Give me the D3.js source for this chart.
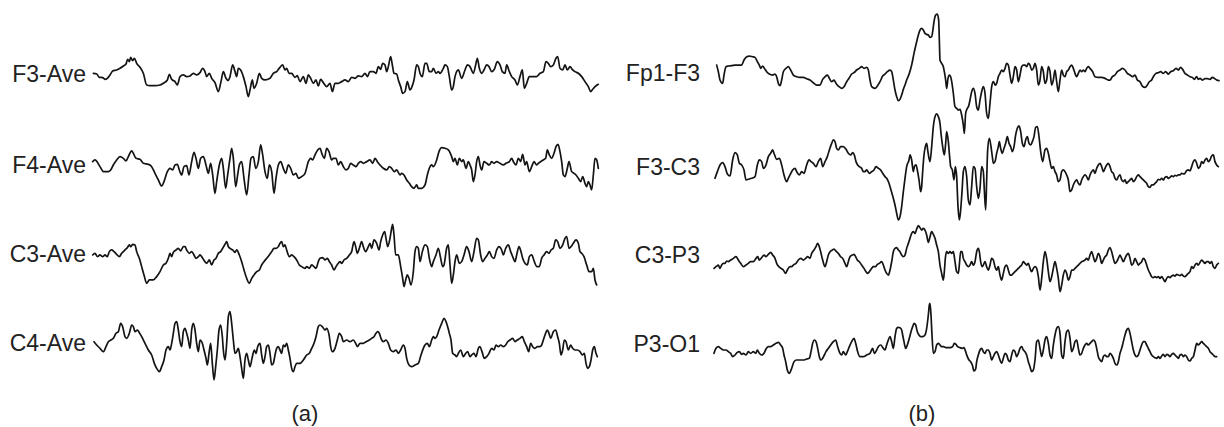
<!DOCTYPE html>
<html>
<head>
<meta charset="utf-8">
<script src="https://cdn.jsdelivr.net/npm/d3@7"></script>
<style>
  body { margin: 0; background: #fff; }
  text { font-family: "Liberation Sans", Arial, sans-serif; fill: #222; }
</style>
</head>
<body>
<svg id="chart" width="1224" height="427"></svg>
<script>
// EEG traces: [sample (150 Hz), amplitude (µV)]
const channelsA = ["F3-Ave", "F4-Ave", "C3-Ave", "C4-Ave"];
const channelsB = ["Fp1-F3", "F3-C3", "C3-P3", "P3-O1"];
const panelLabels = ["(a)", "(b)"];

const f3Ave = [[10,0],[20,-2],[28,-12],[38,-13],[45,-18],[52,-15],[60,-5],[68,7],[80,10],[90,15],[100,22],[108,28],[113,42],[118,35],[122,48],[128,38],[133,45],[140,30],[150,18],[160,0],[170,-35],[180,-37],[195,-37],[210,-35],[220,-30],[232,-20],[238,-3],[245,-18],[255,-25],[262,-35],[270,-10],[280,-5],[290,-10],[300,-8],[310,0],[320,-5],[330,2],[338,15],[345,5],[350,-10],[358,0],[365,-15],[375,-28],[385,-55],[393,-25],[400,5],[408,-15],[415,-22],[420,-10],[428,25],[435,5],[440,-10],[445,15],[452,10],[460,-10],[468,-40],[475,-70],[480,-50],[487,-20],[492,-45],[500,-30],[508,0],[515,-15],[525,-20],[540,-15],[550,0],[560,5],[570,18],[578,25],[585,10],[590,15],[597,0],[605,0],[615,-12],[622,-7],[630,-25],[640,-10],[648,-30],[655,-5],[662,-15],[670,-30],[678,-20],[685,-38],[692,-18],[700,-28],[710,-40],[720,-30],[727,-55],[735,-30],[745,-30],[755,-25],[765,-20],[775,-25],[785,-12],[795,-15],[805,-8],[815,-10],[825,0],[832,-10],[840,5],[850,5],[858,0],[865,20],[872,12],[878,30],[885,25],[890,5],[895,20],[902,50],[907,25],[912,0],[920,-2],[925,-20],[932,-40],[938,-60],[945,-55],[952,-25],[960,-50],[966,-40],[972,-20],[980,25],[985,20],[990,0],[997,-10],[1005,30],[1010,30],[1018,5],[1025,5],[1030,15],[1038,0],[1045,5],[1050,0],[1060,15],[1065,25],[1072,20],[1078,-10],[1085,-50],[1090,-40],[1095,-10],[1105,10],[1115,-15],[1125,10],[1132,25],[1140,20],[1150,0],[1157,25],[1162,45],[1168,15],[1175,0],[1182,10],[1190,25],[1197,20],[1205,5],[1213,12],[1222,35],[1230,25],[1237,5],[1245,0],[1250,25],[1258,5],[1265,-10],[1275,-20],[1282,-35],[1290,-10],[1297,10],[1303,-45],[1310,-30],[1318,-10],[1328,-10],[1340,-10],[1350,0],[1360,5],[1368,35],[1375,30],[1382,20],[1390,25],[1398,45],[1403,50],[1410,15],[1418,10],[1425,25],[1432,10],[1440,20],[1448,10],[1455,5],[1465,0],[1475,-10],[1485,-25],[1495,-40],[1502,-55],[1508,-48],[1515,-40],[1525,-33]];

const f4Ave = [[8,-10],[15,-5],[30,-25],[40,-40],[55,-40],[62,-35],[70,-20],[80,-5],[90,5],[100,0],[108,-8],[115,5],[125,22],[130,15],[138,0],[150,-3],[160,-15],[175,-18],[185,-25],[195,-45],[205,-65],[215,-83],[222,-70],[232,-40],[240,-30],[248,-35],[255,-20],[262,-18],[268,-35],[275,-50],[282,-25],[290,-22],[297,-50],[305,-10],[312,18],[318,0],[325,-30],[332,0],[340,5],[348,-20],[355,-45],[362,-15],[368,-50],[375,-105],[380,-70],[388,-20],[395,0],[400,-30],[407,-90],[413,-50],[420,0],[425,30],[430,0],[437,-85],[443,-50],[448,-20],[455,-10],[462,-60],[470,-110],[477,-50],[483,0],[490,5],[497,-30],[505,-10],[512,40],[518,10],[525,-40],[532,-60],[538,-20],[545,-40],[552,-105],[558,-60],[565,-20],[572,-10],[580,-30],[587,-45],[595,-20],[602,-30],[610,-50],[618,-45],[625,-60],[635,-55],[645,-45],[655,-10],[662,0],[668,-5],[675,10],[683,25],[690,30],[697,10],[703,0],[710,30],[717,20],[725,-5],[730,0],[738,0],[745,-20],[752,-10],[760,-25],[768,-35],[775,-30],[782,-15],[790,-20],[798,-25],[805,-15],[812,-10],[820,-15],[830,-10],[840,-5],[848,-15],[855,0],[862,-10],[870,-20],[880,-30],[890,-35],[898,-25],[905,-30],[913,-40],[920,-35],[930,-50],[935,-45],[942,-50],[950,-65],[958,-75],[965,-85],[972,-90],[980,-80],[985,-90],[995,-90],[1005,-80],[1012,-50],[1018,-30],[1025,-20],[1030,-25],[1040,-5],[1047,20],[1055,32],[1065,30],[1075,25],[1085,5],[1090,-10],[1095,0],[1102,-20],[1108,0],[1115,-10],[1120,-5],[1128,-30],[1135,-10],[1140,-20],[1145,-35],[1150,-70],[1155,-50],[1160,-10],[1165,5],[1170,-20],[1175,-35],[1182,-10],[1190,-15],[1198,-20],[1205,-10],[1212,-15],[1220,-10],[1230,-15],[1240,-20],[1248,-15],[1258,-10],[1265,0],[1270,-10],[1278,-20],[1285,0],[1292,-10],[1298,12],[1305,-20],[1310,-10],[1318,-40],[1325,-25],[1332,-10],[1340,-20],[1345,-15],[1352,-10],[1360,-5],[1367,0],[1372,25],[1378,10],[1385,0],[1392,15],[1398,35],[1404,42],[1410,20],[1415,-10],[1420,-50],[1425,-55],[1432,-30],[1437,-10],[1445,-40],[1452,-45],[1458,-50],[1465,-60],[1472,-70],[1478,-55],[1485,-75],[1490,-85],[1495,-70],[1500,-80],[1505,-95],[1510,-50],[1515,0],[1520,-5],[1525,-30]];

const c3Ave = [[8,-20],[15,-15],[22,-25],[30,-20],[38,-25],[45,-20],[52,-25],[58,-10],[65,-5],[72,-10],[80,-18],[88,-25],[95,-15],[105,-5],[112,2],[118,10],[122,5],[128,12],[135,10],[140,-10],[148,-30],[155,-55],[162,-80],[170,-105],[178,-95],[190,-95],[200,-85],[210,-70],[220,-50],[228,-45],[235,-30],[240,-15],[245,-25],[250,-12],[258,-5],[265,0],[272,-8],[280,5],[285,5],[290,-5],[298,-15],[305,-10],[312,-20],[318,-30],[325,-25],[330,-20],[338,-30],[345,-40],[350,-45],[358,-35],[365,-50],[372,-35],[378,-30],[385,-15],[392,-10],[398,0],[405,12],[410,20],[415,5],[420,0],[428,-5],[435,-12],[440,-5],[448,-20],[455,-40],[462,-65],[470,-90],[478,-105],[485,-90],[492,-80],[500,-70],[508,-65],[515,-50],[522,-40],[530,-30],[538,-20],[545,-10],[552,0],[558,0],[565,5],[570,15],[575,20],[580,5],[585,10],[590,-5],[598,-25],[605,-20],[612,-25],[620,-35],[628,-50],[635,-55],[645,-60],[650,-55],[658,-60],[665,-50],[672,-55],[678,-60],[685,-40],[690,-30],[698,-28],[705,-35],[712,-30],[718,-40],[725,-50],[732,-65],[738,-55],[745,-45],[750,-40],[755,-45],[762,-35],[770,-30],[778,-20],[785,-10],[792,20],[797,5],[802,-15],[808,0],[815,20],[820,5],[827,-10],[835,5],[840,15],[845,0],[852,25],[860,15],[867,-5],[872,20],[878,40],[884,50],[888,30],[893,5],[900,30],[905,60],[908,72],[912,40],[917,-20],[925,-20],[932,-55],[938,-90],[942,-115],[947,-95],[952,-80],[957,-90],[963,-110],[970,-70],[975,-10],[980,5],[985,0],[990,-40],[997,-10],[1005,10],[1012,5],[1018,-30],[1025,-55],[1030,-40],[1038,-20],[1045,0],[1052,-30],[1058,-55],[1062,-50],[1070,0],[1075,10],[1080,-50],[1085,-105],[1090,-80],[1095,-40],[1100,-20],[1108,-45],[1115,-40],[1122,-20],[1130,5],[1137,-10],[1145,-40],[1152,-10],[1160,30],[1165,25],[1172,-20],[1178,-40],[1185,-30],[1192,-20],[1198,-10],[1205,-25],[1212,-30],[1220,-5],[1227,5],[1235,-5],[1240,-20],[1247,0],[1255,10],[1262,-10],[1268,-25],[1275,-40],[1280,-20],[1287,5],[1293,-10],[1298,-30],[1305,-45],[1312,-50],[1318,-25],[1325,-20],[1333,-40],[1340,-55],[1348,-55],[1355,-30],[1362,-20],[1370,-10],[1377,-15],[1383,-5],[1390,0],[1397,25],[1403,20],[1410,0],[1418,10],[1425,30],[1430,35],[1437,0],[1443,5],[1450,15],[1458,25],[1465,15],[1470,-10],[1475,-15],[1482,-25],[1490,-50],[1497,-70],[1505,-70],[1510,-60],[1515,-95],[1520,-110]];

const c4Ave = [[12,-5],[20,-15],[30,-25],[40,-35],[48,-20],[55,-5],[63,0],[70,5],[78,20],[85,25],[92,50],[98,40],[105,10],[110,5],[118,20],[125,45],[130,40],[135,25],[142,30],[148,22],[155,10],[165,-10],[175,-30],[185,-45],[193,-70],[200,-85],[208,-95],[215,-80],[222,-60],[228,-30],[235,-20],[240,-30],[245,-10],[250,20],[255,50],[260,55],[265,30],[270,-5],[275,-20],[280,25],[285,35],[290,20],[295,0],[300,-25],[305,30],[310,50],[315,30],[320,-10],[325,-35],[330,0],[337,-10],[342,-30],[348,-55],[352,-75],[357,-40],[362,-10],[367,-70],[372,-120],[377,-80],[382,-30],[387,30],[392,45],[397,10],[400,-30],[405,-60],[410,-10],[415,70],[420,85],[425,50],[430,0],[435,-40],[440,-35],[445,-25],[450,-50],[455,-85],[460,-115],[465,-60],[470,-40],[475,-60],[480,-80],[487,-50],[493,-30],[498,-40],[503,-20],[510,-10],[515,-45],[520,-70],[525,-50],[530,-20],[535,-15],[540,-40],[545,-75],[550,-70],[555,-45],[560,-25],[565,-20],[570,-30],[575,-40],[580,-15],[585,-20],[590,-10],[595,-30],[600,-55],[605,-85],[610,-95],[615,-80],[620,-70],[630,-70],[640,-60],[650,-45],[658,-40],[665,-25],[672,-10],[678,10],[685,40],[690,45],[697,40],[705,30],[710,35],[718,10],[722,-20],[727,-35],[735,-25],[742,0],[748,20],[755,10],[760,-5],[770,0],[780,-5],[790,0],[797,-10],[802,-20],[810,-10],[820,-10],[828,-5],[838,0],[845,5],[852,10],[858,20],[863,25],[868,20],[873,5],[880,-5],[888,0],[895,-10],[902,-30],[910,-35],[918,-30],[925,-40],[932,-30],[940,-15],[945,-25],[950,-55],[957,-75],[965,-80],[975,-75],[985,-70],[993,-45],[1000,-25],[1005,-15],[1012,-10],[1018,-20],[1025,0],[1030,10],[1035,5],[1040,10],[1047,30],[1055,50],[1062,65],[1068,55],[1073,40],[1078,20],[1083,0],[1088,-40],[1095,-45],[1100,-50],[1105,-40],[1112,-30],[1120,-50],[1127,-40],[1133,-35],[1140,-50],[1145,-45],[1152,-40],[1158,-50],[1165,-25],[1170,-20],[1176,-35],[1183,-55],[1190,-50],[1197,-40],[1205,-25],[1212,-30],[1218,-15],[1225,-20],[1232,-15],[1240,-20],[1247,-15],[1253,-5],[1260,0],[1268,5],[1275,-5],[1282,0],[1290,5],[1297,10],[1303,-5],[1310,-20],[1316,-35],[1322,-10],[1328,-20],[1335,-25],[1342,-20],[1350,-20],[1355,-15],[1360,0],[1365,15],[1372,30],[1377,20],[1382,5],[1390,25],[1397,30],[1403,10],[1408,-10],[1413,-45],[1418,-30],[1423,0],[1428,-5],[1435,-30],[1442,-15],[1448,-25],[1455,-30],[1462,-30],[1470,-35],[1477,-45],[1483,-40],[1488,-70],[1493,-85],[1498,-80],[1503,-60],[1508,-30],[1513,-20],[1518,-40],[1522,-50]];

const fp1F3 = [[20,35],[25,15],[30,-10],[38,-20],[42,5],[48,30],[55,32],[65,33],[75,35],[85,35],[95,35],[102,50],[110,60],[118,62],[128,60],[135,58],[142,45],[148,35],[152,25],[158,32],[163,25],[170,15],[178,8],[188,5],[195,8],[200,0],[205,-20],[210,-27],[215,-10],[220,15],[228,25],[235,30],[242,20],[250,5],[260,0],[270,-2],[280,-2],[290,-6],[300,-10],[310,-18],[320,-25],[330,-25],[338,-8],[345,0],[352,5],[358,-5],[365,-15],[372,-10],[378,-20],[385,-28],[395,-35],[402,-30],[410,-15],[418,-3],[425,8],[432,12],[440,20],[448,25],[455,30],[462,25],[470,28],[475,20],[480,-10],[485,-30],[495,-35],[502,-28],[510,-15],[518,2],[525,8],[532,15],[540,20],[545,15],[550,-10],[555,-40],[560,-60],[565,-72],[570,-68],[575,-55],[580,-38],[585,-25],[590,-10],[598,10],[605,35],[612,70],[620,105],[625,125],[630,140],[635,145],[640,140],[645,130],[650,127],[655,125],[660,118],[665,120],[668,135],[672,165],[677,185],[682,188],[686,170],[688,110],[690,50],[695,40],[700,30],[703,15],[707,-10],[710,-35],[714,-5],[718,5],[722,0],[726,-20],[730,-50],[735,-90],[740,-95],[745,-100],[750,-98],[755,-115],[760,-145],[763,-170],[767,-110],[772,-95],[776,-88],[780,-70],[785,-45],[790,-35],[795,-50],[800,-90],[805,-100],[810,-70],[815,-45],[820,-30],[825,-50],[830,-110],[835,-125],[840,-80],[845,-30],[850,-15],[856,-25],[860,-20],[865,0],[870,10],[875,20],[880,15],[885,25],[890,40],[895,35],[900,5],[905,-20],[910,0],[915,30],[920,20],[925,-15],[930,5],[935,30],[940,35],[945,35],[950,30],[955,40],[960,35],[965,20],[970,25],[975,40],[980,20],[985,-25],[990,-10],[995,30],[1000,15],[1005,-20],[1010,-10],[1015,30],[1020,15],[1025,-25],[1030,-10],[1035,20],[1040,-15],[1045,-45],[1050,-10],[1055,20],[1060,5],[1065,0],[1070,15],[1075,20],[1080,30],[1085,35],[1090,25],[1095,10],[1100,0],[1105,10],[1110,20],[1115,15],[1120,20],[1125,15],[1130,25],[1135,30],[1140,25],[1148,15],[1155,0],[1165,-2],[1175,-2],[1185,-5],[1195,-10],[1200,-10],[1207,0],[1215,5],[1222,15],[1230,20],[1237,25],[1245,20],[1252,10],[1260,5],[1268,0],[1275,5],[1282,-10],[1290,-15],[1297,-28],[1305,-32],[1312,-25],[1318,-15],[1325,-10],[1330,0],[1338,10],[1345,12],[1352,15],[1360,10],[1367,15],[1375,8],[1382,15],[1390,18],[1398,25],[1405,20],[1412,28],[1418,22],[1425,10],[1432,5],[1440,0],[1447,-2],[1453,-8],[1460,0],[1465,-8],[1470,-5],[1477,-10],[1485,-6],[1492,-6],[1500,-8],[1507,-2],[1513,-5],[1520,-10],[1527,-12]];

const f3C3 = [[15,-45],[22,-25],[30,-5],[38,2],[45,-10],[52,-32],[60,-38],[68,10],[75,32],[82,25],[88,0],[95,-5],[102,-20],[108,-50],[115,-48],[125,-45],[135,-40],[142,-5],[148,10],[155,5],[160,-15],[168,-5],[175,20],[182,30],[188,40],[192,30],[200,12],[208,15],[215,-5],[222,-35],[230,-55],[235,-45],[240,-35],[248,-20],[255,-15],[260,-25],[268,-35],[275,-25],[282,-30],[290,-5],[297,10],[303,5],[310,0],[318,-10],[325,5],[332,15],[338,-10],[345,5],[352,20],[358,40],[365,60],[370,70],[375,65],[380,45],[385,40],[392,50],[400,50],[408,42],[415,30],[422,25],[428,32],[433,25],[438,5],[443,-5],[448,-10],[455,-15],[460,-25],[465,-25],[470,-20],[478,-30],[485,-25],[492,-20],[498,-10],[505,-15],[512,-20],[518,-30],[525,-40],[530,-45],[537,-60],[543,-80],[550,-105],[555,-125],[560,-150],[565,-170],[570,-160],[575,-130],[580,-85],[585,-45],[590,-10],[597,10],[600,25],[605,10],[610,-25],[613,-10],[618,-5],[622,-20],[627,-50],[632,-85],[635,-70],[638,-25],[642,25],[646,50],[650,60],[653,40],[657,15],[660,5],[665,50],[670,110],[675,140],[680,148],[685,140],[690,120],[693,90],[698,50],[703,25],[707,60],[710,95],[715,65],[718,30],[722,-10],[727,-20],[732,-50],[736,-10],[740,-40],[744,-130],[748,-170],[752,-140],[756,-85],[760,-25],[765,-10],[770,-40],[775,-110],[780,-125],[785,-70],[790,-10],[795,-15],[800,-70],[805,-105],[810,-75],[815,-10],[820,-25],[823,-80],[827,-140],[830,-50],[833,40],[838,75],[843,50],[847,20],[850,0],[855,5],[860,30],[865,50],[868,65],[872,45],[877,30],[882,45],[887,60],[892,80],[897,60],[902,50],[907,35],[912,50],[917,85],[922,105],[927,112],[932,95],[937,60],[942,50],[947,70],[952,80],[957,60],[962,55],[967,65],[972,80],[977,108],[982,110],[987,80],[992,35],[998,5],[1005,40],[1010,45],[1015,30],[1020,5],[1025,-15],[1030,-10],[1035,-25],[1040,-35],[1045,-55],[1050,-50],[1055,-25],[1060,-20],[1065,-25],[1070,-35],[1075,-50],[1080,-85],[1085,-80],[1090,-65],[1095,-55],[1100,-50],[1105,-60],[1110,-65],[1115,-50],[1120,-40],[1125,-35],[1130,-40],[1135,-50],[1140,-35],[1145,-25],[1150,-20],[1155,-30],[1160,-15],[1165,-5],[1170,0],[1175,-10],[1180,-25],[1185,-15],[1190,-5],[1195,0],[1200,-10],[1205,-25],[1210,-30],[1215,-45],[1220,-50],[1225,-40],[1230,-35],[1235,-50],[1240,-55],[1245,-50],[1250,-60],[1255,-55],[1260,-50],[1265,-45],[1270,-55],[1275,-50],[1280,-40],[1285,-35],[1290,-40],[1295,-45],[1300,-50],[1305,-55],[1310,-60],[1315,-70],[1320,-72],[1325,-65],[1330,-65],[1335,-60],[1340,-55],[1345,-48],[1350,-50],[1355,-45],[1360,-50],[1365,-42],[1370,-40],[1375,-45],[1380,-42],[1385,-38],[1390,-40],[1395,-36],[1400,-38],[1405,-35],[1410,-35],[1415,-30],[1420,-32],[1425,-30],[1430,-22],[1435,-20],[1440,-23],[1445,-10],[1450,5],[1455,10],[1460,0],[1465,-15],[1470,-10],[1475,5],[1480,0],[1485,10],[1490,15],[1495,5],[1500,10],[1505,22],[1510,25],[1515,5],[1520,-5],[1525,-10]];

const c3P3 = [[12,-50],[18,-45],[25,-40],[30,-50],[35,-40],[40,-35],[45,-35],[50,-28],[55,-30],[62,-25],[70,-20],[78,-15],[85,-25],[92,-35],[100,-45],[108,-40],[115,-35],[122,-30],[130,-30],[138,-20],[143,-15],[148,-25],[155,-18],[162,-10],[168,-15],[175,-8],[182,-2],[188,-10],[195,-20],[200,-35],[207,-45],[213,-50],[220,-55],[227,-65],[232,-55],[240,-45],[245,-45],[250,-40],[258,-35],[265,-25],[272,-20],[280,-25],[287,-20],[293,-15],[300,-20],[305,-5],[312,5],[318,15],[323,25],[328,15],[332,0],[338,-25],[345,-45],[350,-30],[355,-10],[360,0],[367,5],[372,8],[378,2],[385,-5],[392,-15],[398,-20],[405,-35],[410,-45],[415,-30],[420,-15],[427,-10],[432,-8],[437,-15],[442,-25],[448,-30],[455,-40],[462,-50],[468,-60],[472,-65],[478,-60],[485,-50],[490,-45],[497,-45],[502,-38],[508,-35],[515,-30],[520,-40],[525,-55],[530,-65],[535,-70],[540,-55],[545,-30],[550,0],[555,10],[560,12],[565,5],[570,0],[575,-10],[580,-15],[585,-10],[590,10],[595,25],[600,40],[605,55],[610,60],[615,55],[620,68],[625,78],[630,72],[635,65],[640,70],[645,65],[650,50],[655,28],[660,45],[665,60],[670,52],[675,40],[680,20],[685,0],[690,-40],[695,-65],[700,-85],[703,-60],[706,-20],[710,0],[715,-5],[720,0],[725,-5],[730,0],[735,-30],[740,-60],[745,-65],[748,-40],[752,0],[756,0],[760,-20],[765,-30],[770,-40],[775,-45],[780,-40],[785,-30],[790,-40],[795,-30],[800,0],[805,10],[808,0],[812,-30],[816,-45],[820,-40],[825,-30],[830,-45],[835,-55],[840,-40],[845,-20],[850,-25],[855,-45],[860,-55],[865,-45],[870,-70],[875,-85],[880,-65],[885,-45],[890,-40],[895,-55],[900,-70],[905,-70],[910,-65],[915,-60],[920,-55],[925,-50],[930,-45],[935,-40],[940,-30],[945,-35],[950,-40],[955,-35],[960,-50],[965,-60],[970,-50],[975,-45],[980,-50],[985,-75],[990,-115],[995,-80],[1000,-30],[1005,0],[1010,-20],[1015,-60],[1020,-90],[1025,-75],[1030,-50],[1035,-30],[1040,-50],[1045,-80],[1050,-120],[1055,-100],[1060,-70],[1065,-55],[1070,-65],[1075,-85],[1080,-75],[1085,-55],[1090,-55],[1095,-50],[1100,-45],[1105,-40],[1110,-35],[1115,-30],[1120,-28],[1125,-25],[1130,-20],[1135,-25],[1140,-10],[1145,0],[1150,-15],[1155,-30],[1160,-20],[1165,-5],[1170,-15],[1175,-35],[1180,-25],[1185,-15],[1190,-10],[1195,5],[1200,12],[1205,0],[1210,-20],[1215,-35],[1220,-30],[1225,-20],[1230,-10],[1235,-20],[1240,-30],[1245,-20],[1250,-10],[1255,-5],[1260,-20],[1265,-40],[1270,-35],[1275,-20],[1280,-30],[1285,-40],[1290,-35],[1295,-30],[1300,-20],[1305,-25],[1310,-40],[1315,-55],[1320,-65],[1325,-75],[1330,-78],[1335,-75],[1340,-78],[1345,-75],[1350,-80],[1355,-75],[1360,-82],[1365,-90],[1370,-80],[1375,-75],[1380,-78],[1385,-73],[1390,-70],[1395,-73],[1400,-68],[1405,-70],[1410,-72],[1415,-68],[1420,-73],[1425,-75],[1430,-70],[1435,-65],[1440,-60],[1445,-45],[1450,-50],[1455,-40],[1460,-35],[1465,-40],[1470,-32],[1475,-25],[1480,-30],[1485,-35],[1490,-30],[1495,-30],[1500,-35],[1505,-30],[1510,-45],[1515,-50],[1520,-40],[1525,-35]];

const p3O1 = [[12,-25],[18,-10],[25,-5],[32,-10],[40,-15],[48,-15],[55,-20],[62,-25],[68,-35],[75,-30],[82,-22],[88,-20],[95,-28],[100,-25],[108,-30],[115,-20],[122,-25],[130,-20],[137,-25],[142,-15],[148,-25],[155,-30],[162,-25],[168,-12],[175,-5],[182,-5],[190,0],[198,5],[205,8],[212,0],[218,-10],[222,-30],[227,-50],[232,-75],[238,-85],[245,-70],[252,-50],[260,-45],[270,-45],[280,-45],[290,-42],[298,-40],[303,-20],[308,5],[313,15],[318,10],[323,-10],[328,-35],[333,-45],[338,-40],[343,-30],[348,-20],[355,-10],[362,0],[370,10],[377,15],[383,-5],[390,-25],[395,-30],[400,-20],[407,-30],[412,-20],[418,-5],[425,10],[432,20],[437,5],[443,-20],[450,-35],[460,-35],[470,-30],[480,-25],[488,-10],[493,-25],[500,-15],[505,-5],[512,0],[520,-10],[525,-15],[530,0],[535,15],[540,25],[545,10],[550,-10],[555,25],[560,50],[565,53],[570,52],[575,45],[578,30],[582,10],[587,-10],[592,0],[598,20],[603,40],[608,55],[612,65],[617,60],[622,40],[627,30],[632,25],[638,25],[645,30],[650,50],[655,90],[658,120],[660,125],[663,90],[666,30],[670,-25],[675,-20],[680,0],[685,5],[690,0],[695,-5],[700,-5],[710,-8],[720,-8],[728,-5],[733,5],[738,2],[743,-5],[750,-8],[757,-10],[762,-8],[767,-20],[772,-35],[777,-45],[782,-50],[787,-60],[792,-78],[797,-72],[800,-50],[805,-30],[810,-15],[815,-10],[820,-20],[825,-25],[830,-15],[835,-15],[840,-25],[845,-45],[850,-35],[855,-25],[860,-20],[865,-30],[870,-45],[875,-55],[880,-40],[885,-25],[890,-30],[895,-45],[900,-50],[905,-30],[910,-15],[915,-20],[920,-35],[925,-25],[930,-10],[935,-5],[940,-15],[945,-20],[950,-30],[955,-50],[960,-65],[965,-80],[970,-75],[975,-45],[980,10],[985,15],[990,-10],[995,-35],[1000,-15],[1005,15],[1010,25],[1015,5],[1020,-30],[1025,-40],[1030,0],[1035,30],[1040,50],[1045,55],[1050,35],[1055,-30],[1060,-40],[1065,10],[1070,40],[1075,45],[1080,20],[1085,-20],[1090,-10],[1095,10],[1100,15],[1105,-10],[1110,-30],[1115,-25],[1120,-10],[1125,0],[1130,5],[1135,0],[1140,5],[1145,10],[1150,15],[1155,10],[1160,-10],[1165,-35],[1170,-45],[1175,-50],[1180,-35],[1185,-30],[1190,-35],[1195,-35],[1200,-25],[1205,-30],[1210,-40],[1215,-55],[1220,-60],[1225,-50],[1230,-25],[1235,-10],[1240,10],[1245,30],[1250,45],[1255,50],[1260,35],[1265,10],[1270,-15],[1275,-30],[1280,-35],[1285,-30],[1290,-15],[1295,0],[1300,10],[1305,10],[1310,0],[1315,-10],[1320,-20],[1325,-30],[1330,-35],[1335,-38],[1340,-40],[1345,-35],[1350,-40],[1355,-33],[1360,-28],[1365,-35],[1370,-28],[1375,-30],[1380,-35],[1385,-28],[1390,-25],[1395,-30],[1400,-35],[1405,-40],[1410,-30],[1415,-28],[1420,-35],[1425,-30],[1430,-35],[1435,-45],[1440,-48],[1445,-40],[1450,-35],[1455,-15],[1460,5],[1465,0],[1470,5],[1475,10],[1480,5],[1485,0],[1490,-5],[1495,-10],[1500,-20],[1505,-25],[1510,-30],[1515,-35],[1520,-35]];

const tracesA = [f3Ave, f4Ave, c3Ave, c4Ave];
const tracesB = [fp1F3, f3C3, c3P3, p3O1];

const svg = d3.select("#chart");

// layout
const panels = [
  { names: channelsA, traces: tracesA, x0: 90,  labelX: 86,  rows: [73.3, 158.3, 248.3, 340], labelY: [74, 165, 254, 343], tag: panelLabels[0], tagX: 305 },
  { names: channelsB, traces: tracesB, x0: 710, labelX: 700, rows: [76.7, 163.3, 251.7, 345], labelY: [73, 167, 255, 344], tag: panelLabels[1], tagX: 922 }
];

const sampleSpan = 1545;
const ampSpan = 150;

panels.forEach(function(p) {
  const x = d3.scaleLinear().domain([0, sampleSpan]).range([p.x0, p.x0 + 515]);
  const g = svg.append("g");

  p.traces.forEach(function(tr, i) {
    const y = d3.scaleLinear().domain([-ampSpan, ampSpan]).range([p.rows[i] + 50, p.rows[i] - 50]);
    const line = d3.line()
      .x(d => x(d[0]))
      .y(d => y(d[1]))
      .curve(d3.curveMonotoneX);

    g.append("path")
      .datum(tr)
      .attr("d", line)
      .attr("fill", "none")
      .attr("stroke", "#141414")
      .attr("stroke-width", 1.7)
      .attr("stroke-linejoin", "round")
      .attr("stroke-linecap", "round");

    g.append("text")
      .text(p.names[i])
      .attr("x", p.labelX)
      .attr("y", p.labelY[i])
      .attr("dy", "0.36em")
      .attr("text-anchor", "end")
      .style("font-size", "23px");
  });

  g.append("text")
    .text(p.tag)
    .attr("x", p.tagX)
    .attr("y", 421)
    .attr("text-anchor", "middle")
    .style("font-size", "22px");
});
</script>
</body>
</html>
